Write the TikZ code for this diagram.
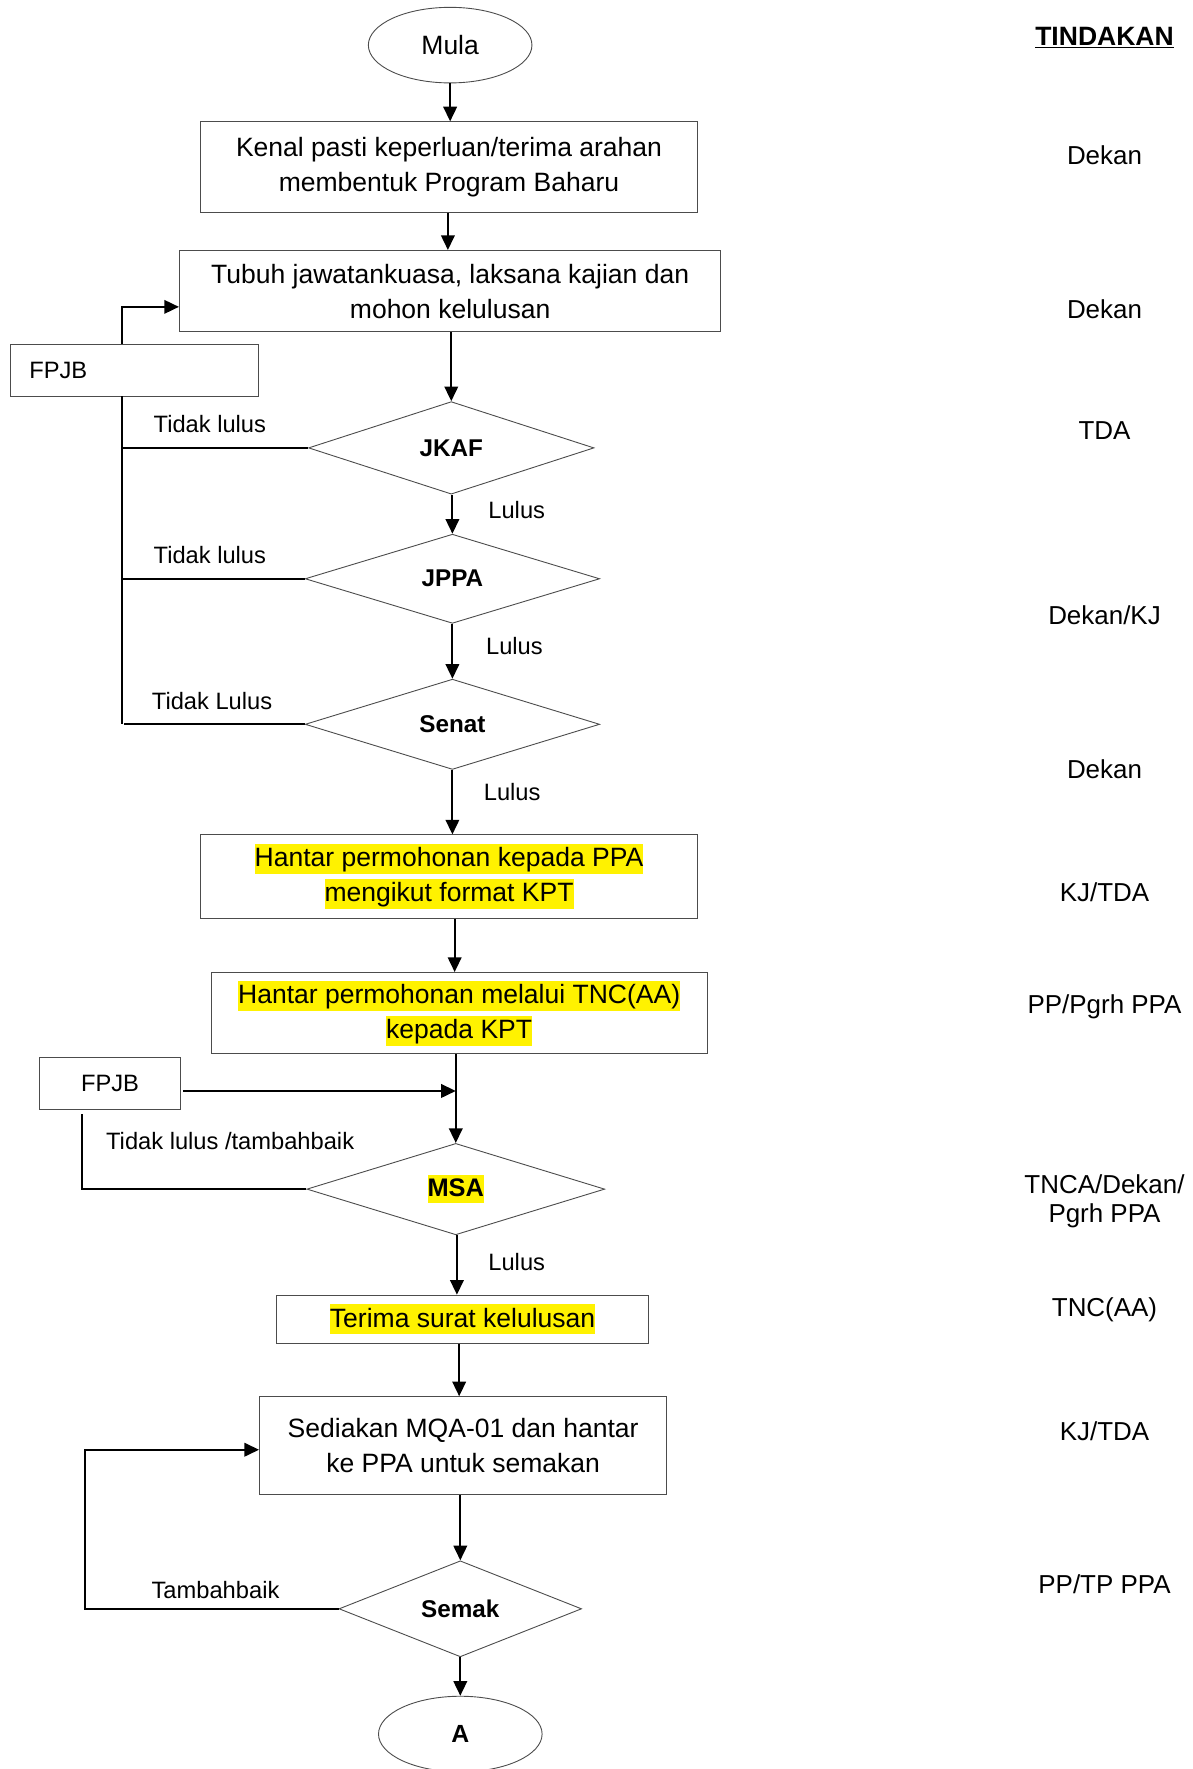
\documentclass[tikz,border=0pt]{standalone}
\usepackage{fontspec}
\setmainfont{Liberation Sans}
\usepackage{xcolor}
\usetikzlibrary{shapes.geometric,arrows.meta,calc}
\newcommand{\hlt}[1]{{\setlength{\fboxsep}{0pt}\colorbox{yellow}{\vrule height 0.86em depth 0.27em width 0pt #1}}}
\begin{document}
\begin{tikzpicture}[x=1pt,y=-1pt,
  box/.style={draw=black!70, line width=0.8pt, align=center, inner sep=0pt, font=\fontsize{23.5}{31}\selectfont},
  dia/.style={diamond, draw=black!70, line width=0.8pt, inner sep=0pt, font=\bfseries\fontsize{21.5}{26}\selectfont},
  term/.style={ellipse, draw=black!70, line width=0.8pt, inner sep=0pt, minimum width=145pt, minimum height=67pt},
  lbl/.style={font=\fontsize{21}{25}\selectfont, inner sep=0pt},
  act/.style={font=\fontsize{23}{26}\selectfont, align=center, inner sep=0pt},
  conn/.style={line width=1.8pt},
  arr/.style={conn, -{Triangle[length=13pt,width=12pt]}},
]
\useasboundingbox (0,0) rectangle (1057,1568);

% main column
\node[term, font=\fontsize{23.5}{28}\selectfont] (mula) at (399,40) {Mula};
\node[box, minimum width=440pt, minimum height=80pt] (b1) at (398,148) {Kenal pasti keperluan/terima arahan\\membentuk Program Baharu};
\node[box, minimum width=480pt, minimum height=72pt] (b2) at (399,258) {Tubuh jawatankuasa, laksana kajian dan\\mohon kelulusan};
\node[box, minimum width=220pt, minimum height=46pt, font=\fontsize{21}{25}\selectfont] (f1) at (119,328) {\makebox[186pt][l]{FPJB}};
\node[dia, minimum width=253pt, minimum height=82pt] (jkaf) at (400,397) {JKAF};
\node[dia, minimum width=261pt, minimum height=79pt] (jppa) at (401,513) {JPPA};
\node[dia, minimum width=261pt, minimum height=80pt] (senat) at (401,642) {Senat};
\node[box, minimum width=440pt, minimum height=74pt] (b3) at (398,777) {\hlt{Hantar permohonan kepada PPA}\\\hlt{mengikut format KPT}};
\node[box, minimum width=440pt, minimum height=72pt] (b4) at (407,898) {\hlt{Hantar permohonan melalui TNC(AA)}\\\hlt{kepada KPT}};
\node[box, minimum width=125pt, minimum height=46pt, font=\fontsize{21}{25}\selectfont] (f2) at (97.5,960) {FPJB};
\node[dia, minimum width=264pt, minimum height=81pt, font=\bfseries\fontsize{22.5}{26}\selectfont] (msa) at (404,1054) {\hlt{MSA}};
\node[box, minimum width=330pt, minimum height=43pt] (b5) at (410,1169.5) {\hlt{Terima surat kelulusan}};
\node[box, minimum width=361pt, minimum height=87pt] (b6) at (410.5,1281.5) {Sediakan MQA-01 dan hantar\\ke PPA untuk semakan};
\node[dia, minimum width=215pt, minimum height=80pt] (semak) at (408,1426) {Semak};
\node[term, font=\bfseries\fontsize{22}{26}\selectfont] (A) at (408,1537) {A};

% main connectors
\draw[arr] (mula.south) -- (mula.south |- b1.north);
\draw[arr] ([xshift=-1pt]b1.south) -- ([xshift=-1pt]b1.south |- b2.north);
\draw[arr] ([xshift=1pt]b2.south) -- (jkaf.north);
\draw[arr] ([xshift=1pt]jkaf.south) -- (jppa.north);
\draw[arr] (jppa.south) -- (senat.north);
\draw[arr] (senat.south) -- (senat.south |- b3.north);
\draw[arr] ([xshift=5pt]b3.south) -- ([xshift=-4pt]b4.north);
\draw[arr] ([xshift=-3pt]b4.south) -- (msa.north);
\draw[arr] ([xshift=1pt]msa.south) -- ([xshift=1pt]msa.south |- b5.north);
\draw[arr] ([xshift=-3pt]b5.south) -- ([xshift=-3pt]b5.south |- b6.north);
\draw[arr] (semak.north |- b6.south) -- (semak.north);
\draw[arr] (semak.south) -- (A.north);

% upper feedback loop
\coordinate (fbtop) at ([xshift=-11pt]f1.north);
\coordinate (fbbot) at ([xshift=-11pt]f1.south);
\draw[arr] (fbtop) |- ([yshift=-14pt]b2.west);
\draw[conn] (fbbot) -- (fbbot |- senat.west);
\draw[conn] (jkaf.west) -- (jkaf.west -| fbbot);
\draw[conn] (jppa.west) -- (jppa.west -| fbbot);
\draw[conn] (senat.west) -- ([xshift=2pt]senat.west -| fbbot);

% MSA feedback
\draw[arr] ([xshift=2pt,yshift=-7pt]f2.east) -- ([yshift=-7pt]f2.east -| msa.north);
\draw[conn] (msa.west) -| ([xshift=-24.5pt,yshift=-4pt]f2.south);

% Semak feedback
\draw[arr] (semak.west) -- ++(-225,0) |- ([yshift=-3.5pt]b6.west);

% labels
\node[lbl] (l1) at (186,376) {Tidak lulus};
\node[lbl] (l2) at (186,492) {Tidak lulus};
\node[lbl] (l3) at (188,621) {Tidak Lulus};
\node[lbl] (l4) at (458,452) {Lulus};
\node[lbl] (l5) at (456,573) {Lulus};
\node[lbl] (l6) at (454,702) {Lulus};
\node[lbl] (l7) at (204,1011) {Tidak lulus /tambahbaik};
\node[lbl] (l8) at (458,1119) {Lulus};
\node[lbl] (l9) at (191,1409) {Tambahbaik};

% TINDAKAN column
\node[act, font=\bfseries\fontsize{23.5}{26}\selectfont] (t0) at (979,33) {\underline{TINDAKAN}};
\node[act] (t1) at (979,138) {Dekan};
\node[act] (t2) at (979,274) {Dekan};
\node[act] (t3) at (979,382) {TDA};
\node[act] (t4) at (979,545) {Dekan/KJ};
\node[act] (t5) at (979,682) {Dekan};
\node[act] (t6) at (979,791) {KJ/TDA};
\node[act] (t7) at (979,892) {PP/Pgrh PPA};
\node[act] (t8) at (979,1065) {TNCA/Dekan/\\Pgrh PPA};
\node[act] (t9) at (979,1161) {TNC(AA)};
\node[act] (t10) at (979,1269) {KJ/TDA};
\node[act] (t11) at (979,1404) {PP/TP PPA};
\end{tikzpicture}
\end{document}
